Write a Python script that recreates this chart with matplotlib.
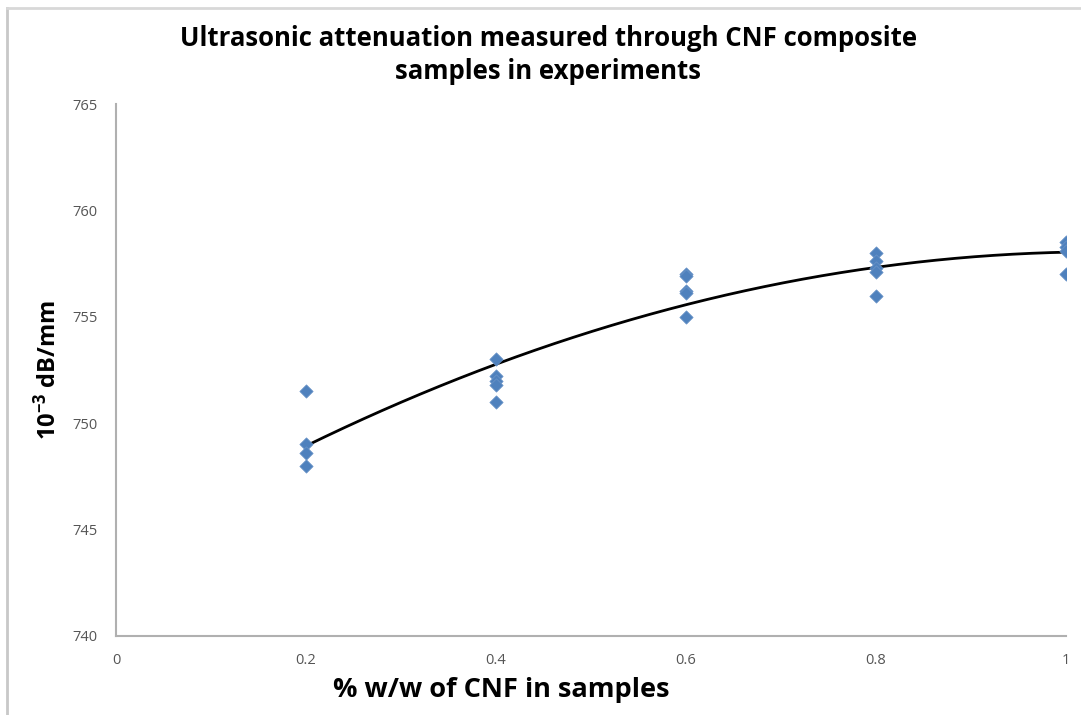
import matplotlib.pyplot as plt
import numpy as np
from matplotlib.lines import Line2D

# measured attenuation per CNF loading (repeat measurements)
cnf_02 = [751.5, 749.0, 748.6, 748.0]
cnf_04 = [753.0, 752.2, 752.0, 751.8, 751.0]
cnf_06 = [757.0, 756.9, 756.2, 756.1, 755.0]
cnf_08 = [758.0, 757.6, 757.3, 757.1, 756.0]
cnf_10 = [758.5, 758.3, 758.1, 757.0]
loadings = [0.2, 0.4, 0.6, 0.8, 1.0]

x_ticks = [0, 0.2, 0.4, 0.6, 0.8, 1]
x_ticklabels = ['0', '0.2', '0.4', '0.6', '0.8', '1']
y_ticks = [740, 745, 750, 755, 760, 765]

groups = [cnf_02, cnf_04, cnf_06, cnf_08, cnf_10]
xs = np.concatenate([[l] * len(g) for l, g in zip(loadings, groups)])
ys = np.concatenate(groups)

# second order trend line like the spreadsheet one
coef = np.polyfit(xs, ys, 2)
xf = np.linspace(0.2, 1.0, 200)
yf = np.polyval(coef, xf)

plt.rcParams['font.family'] = ['Open Sans', 'DejaVu Sans']
plt.rcParams['mathtext.fontset'] = 'custom'
plt.rcParams['mathtext.rm'] = 'Open Sans'
plt.rcParams['mathtext.bf'] = 'Open Sans:bold'

fig = plt.figure(figsize=(10.81, 7.15), dpi=100)
ax = fig.add_axes([0.1073, 0.1105, 0.8789, 0.744])

ax.plot(xf, yf, color='black', linewidth=2, zorder=2)
ax.scatter(xs, ys, marker='D', s=46, color='#4f81bd', edgecolors='#6a94c8',
           linewidths=0.5, zorder=3)

ax.set_xlim(0, 1)
ax.set_ylim(740, 765)
ax.set_xticks(x_ticks)
ax.set_xticklabels(x_ticklabels)
ax.set_yticks(y_ticks)
ax.tick_params(length=0, labelsize=10.5, labelcolor='#555555', pad=12)
ax.tick_params(axis='y', pad=13)
for side in ['top', 'right']:
    ax.spines[side].set_visible(False)
for side in ['left', 'bottom']:
    ax.spines[side].set_color('#b0b0b0')
    ax.spines[side].set_linewidth(1.5)

ax.set_xlabel('% w/w of CNF in samples', fontsize=19.5, fontweight='bold')
ax.xaxis.set_label_coords(0.406, -0.078)
ax.set_ylabel(r'$\mathbf{10^{-3}}$ dB/mm', fontsize=17, fontweight='bold')
ax.yaxis.set_label_coords(-0.057, 0.5)

fig.text(0.507, 0.923, 'Ultrasonic attenuation measured through CNF composite\nsamples in experiments',
         ha='center', va='center', fontsize=18.5, fontweight='bold', linespacing=1.25)

# outer chart frame
fig.add_artist(Line2D([7 / 1081, 7 / 1081], [0, 1 - 8 / 715], color='#c8c8c8', linewidth=2,
                      transform=fig.transFigure))
fig.add_artist(Line2D([7 / 1081, 1], [1 - 8 / 715, 1 - 8 / 715], color='#d8d8d8', linewidth=2,
                      transform=fig.transFigure))

fig.savefig('out.png', dpi=100)
